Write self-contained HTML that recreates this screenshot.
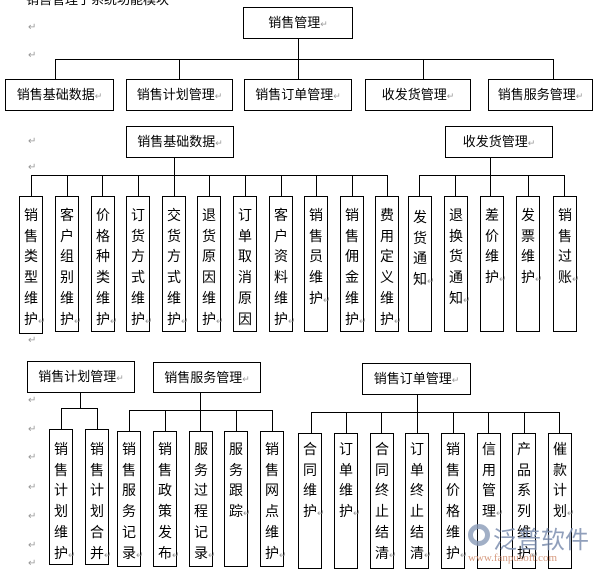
<!DOCTYPE html>
<html><head><meta charset="utf-8"><style>
body{margin:0;width:600px;height:571px;position:relative;overflow:hidden;background:#fff;font-family:"Liberation Sans","Noto Sans CJK SC","WenQuanYi Zen Hei",sans-serif;color:#000}
.b{position:absolute;border:1px solid #000;box-sizing:border-box;background:#fff;font-size:13px;text-align:center}
.h{line-height:29px}
.v{font-size:14px;line-height:20.7px;text-align:left;padding-left:4px;width:24px;word-break:break-all}
.l{position:absolute;background:#000}
.r{color:#999;font-size:9px}
.n{white-space:nowrap}
.m{position:absolute;color:#999;font-size:10px;left:28px}
</style></head><body>
<div style="position:absolute;left:26px;top:-11px;font-size:13px">销售管理子系统功能模块</div>
<div class="m" style="top:22px">↵</div><div class="m" style="top:50px">↵</div><div class="m" style="top:84px">↵</div><div class="m" style="top:136px">↵</div><div class="m" style="top:162px">↵</div><div class="m" style="top:335px">↵</div>
<div class="m" style="top:395px">↵</div><div class="m" style="top:424px">↵</div><div class="m" style="top:452px">↵</div><div class="m" style="top:482px">↵</div><div class="m" style="top:511px">↵</div><div class="m" style="top:540px">↵</div><div class="m" style="top:558px">↵</div>

<div class="b h" style="left:243px;top:7px;width:110px;height:32px">销售管理<span class="r">↵</span></div>
<div class="l" style="left:298px;top:38px;width:1px;height:21px"></div>
<div class="l" style="left:55px;top:59px;width:499px;height:1px"></div>
<div class="l" style="left:55px;top:59px;width:1px;height:20px"></div>
<div class="l" style="left:179px;top:59px;width:1px;height:20px"></div>
<div class="l" style="left:298px;top:59px;width:1px;height:20px"></div>
<div class="l" style="left:423px;top:59px;width:1px;height:20px"></div>
<div class="l" style="left:553px;top:59px;width:1px;height:20px"></div>
<div class="b h" style="left:5px;top:79px;width:109px;height:32px">销售基础数据<span class="r">↵</span></div>
<div class="b h" style="left:126px;top:79px;width:107px;height:32px">销售计划管理<span class="r">↵</span></div>
<div class="b h" style="left:244px;top:79px;width:108px;height:32px">销售订单管理<span class="r">↵</span></div>
<div class="b h" style="left:365px;top:79px;width:106px;height:32px">收发货管理<span class="r">↵</span></div>
<div class="b h" style="left:488px;top:79px;width:105px;height:32px">销售服务管理<span class="r">↵</span></div>

<div class="b h" style="left:126px;top:126px;width:108px;height:32px">销售基础数据<span class="r">↵</span></div>
<div class="b h" style="left:445px;top:126px;width:108px;height:32px">收发货管理<span class="r">↵</span></div>
<div class="l" style="left:174px;top:157px;width:1px;height:18px"></div>
<div class="l" style="left:31px;top:175px;width:357px;height:1px"></div>
<div class="l" style="left:31px;top:175px;width:1px;height:21px"></div>
<div class="l" style="left:67px;top:175px;width:1px;height:21px"></div>
<div class="l" style="left:102px;top:175px;width:1px;height:21px"></div>
<div class="l" style="left:138px;top:175px;width:1px;height:21px"></div>
<div class="l" style="left:174px;top:175px;width:1px;height:21px"></div>
<div class="l" style="left:209px;top:175px;width:1px;height:21px"></div>
<div class="l" style="left:245px;top:175px;width:1px;height:21px"></div>
<div class="l" style="left:281px;top:175px;width:1px;height:21px"></div>
<div class="l" style="left:316px;top:175px;width:1px;height:21px"></div>
<div class="l" style="left:352px;top:175px;width:1px;height:21px"></div>
<div class="l" style="left:387px;top:175px;width:1px;height:21px"></div>
<div class="l" style="left:490px;top:157px;width:1px;height:18px"></div>
<div class="l" style="left:419px;top:175px;width:146px;height:1px"></div>
<div class="l" style="left:419px;top:175px;width:1px;height:21px"></div>
<div class="l" style="left:455px;top:175px;width:1px;height:21px"></div>
<div class="l" style="left:490px;top:175px;width:1px;height:21px"></div>
<div class="l" style="left:528px;top:175px;width:1px;height:21px"></div>
<div class="l" style="left:564px;top:175px;width:1px;height:21px"></div>

<div class="b v" style="left:19px;top:196px;height:138px;padding-top:8px">销售类型维<span class="n">护<span class="r">↵</span></span></div>
<div class="b v" style="left:55px;top:196px;height:136px;padding-top:8px">客户组别维<span class="n">护<span class="r">↵</span></span></div>
<div class="b v" style="left:91px;top:196px;height:136px;padding-top:8px">价格种类维<span class="n">护<span class="r">↵</span></span></div>
<div class="b v" style="left:126px;top:196px;height:136px;padding-top:8px">订货方式维<span class="n">护<span class="r">↵</span></span></div>
<div class="b v" style="left:162px;top:196px;height:136px;padding-top:8px">交货方式维<span class="n">护<span class="r">↵</span></span></div>
<div class="b v" style="left:197px;top:196px;height:136px;padding-top:8px">退货原因维<span class="n">护<span class="r">↵</span></span></div>
<div class="b v" style="left:233px;top:196px;height:136px;padding-top:8px">订单取消原因</div>
<div class="b v" style="left:269px;top:196px;height:136px;padding-top:8px">客户资料维<span class="n">护<span class="r">↵</span></span></div>
<div class="b v" style="left:304px;top:196px;height:136px;padding-top:8px">销售员维<span class="n">护<span class="r">↵</span></span></div>
<div class="b v" style="left:340px;top:196px;height:136px;padding-top:8px">销售佣金维<span class="n">护<span class="r">↵</span></span></div>
<div class="b v" style="left:375px;top:196px;height:136px;padding-top:8px">费用定义维<span class="n">护<span class="r">↵</span></span></div>
<div class="b v" style="left:408px;top:196px;height:136px;padding-top:10px">发货通<span class="n">知<span class="r">↵</span></span></div>
<div class="b v" style="left:444px;top:196px;height:136px;padding-top:8px">退换货通<span class="n">知<span class="r">↵</span></span></div>
<div class="b v" style="left:480px;top:196px;height:136px;padding-top:8px">差价维<span class="n">护<span class="r">↵</span></span></div>
<div class="b v" style="left:516px;top:196px;height:136px;padding-top:8px">发票维<span class="n">护<span class="r">↵</span></span></div>
<div class="b v" style="left:553px;top:196px;height:136px;padding-top:8px">销售过<span class="n">账<span class="r">↵</span></span></div>

<div class="b h" style="left:27px;top:361px;width:108px;height:32px">销售计划管理<span class="r">↵</span></div>
<div class="l" style="left:80px;top:392px;width:1px;height:16px"></div>
<div class="l" style="left:61px;top:408px;width:37px;height:1px"></div>
<div class="l" style="left:61px;top:408px;width:1px;height:21px"></div>
<div class="l" style="left:97px;top:408px;width:1px;height:21px"></div>
<div class="b v" style="left:49px;top:429px;height:136px;padding-top:9px">销售计划维<span class="n">护<span class="r">↵</span></span></div>
<div class="b v" style="left:85px;top:429px;height:136px;padding-top:9px">销售计划合<span class="n">并<span class="r">↵</span></span></div>

<div class="b h" style="left:153px;top:362px;width:108px;height:31px">销售服务管理<span class="r">↵</span></div>
<div class="l" style="left:200px;top:392px;width:1px;height:18px"></div>
<div class="l" style="left:129px;top:410px;width:144px;height:1px"></div>
<div class="l" style="left:129px;top:410px;width:1px;height:21px"></div>
<div class="l" style="left:165px;top:410px;width:1px;height:21px"></div>
<div class="l" style="left:200px;top:410px;width:1px;height:21px"></div>
<div class="l" style="left:236px;top:410px;width:1px;height:21px"></div>
<div class="l" style="left:272px;top:410px;width:1px;height:21px"></div>
<div class="b v" style="left:117px;top:431px;height:136px;padding-top:7px">销售服务记<span class="n">录<span class="r">↵</span></span></div>
<div class="b v" style="left:153px;top:431px;height:136px;padding-top:7px">销售政策发<span class="n">布<span class="r">↵</span></span></div>
<div class="b v" style="left:189px;top:431px;height:136px;padding-top:7px">服务过程记<span class="n">录<span class="r">↵</span></span></div>
<div class="b v" style="left:224px;top:431px;height:136px;padding-top:7px">服务跟<span class="n">踪<span class="r">↵</span></span></div>
<div class="b v" style="left:260px;top:431px;height:136px;padding-top:7px">销售网点维<span class="n">护<span class="r">↵</span></span></div>

<div class="b h" style="left:362px;top:363px;width:109px;height:32px">销售订单管理<span class="r">↵</span></div>
<div class="l" style="left:417px;top:394px;width:1px;height:18px"></div>
<div class="l" style="left:311px;top:412px;width:249px;height:1px"></div>
<div class="l" style="left:311px;top:412px;width:1px;height:21px"></div>
<div class="l" style="left:346px;top:412px;width:1px;height:21px"></div>
<div class="l" style="left:381px;top:412px;width:1px;height:21px"></div>
<div class="l" style="left:417px;top:412px;width:1px;height:21px"></div>
<div class="l" style="left:453px;top:412px;width:1px;height:21px"></div>
<div class="l" style="left:488px;top:412px;width:1px;height:21px"></div>
<div class="l" style="left:524px;top:412px;width:1px;height:21px"></div>
<div class="l" style="left:559px;top:412px;width:1px;height:21px"></div>
<div class="b v" style="left:298px;top:433px;height:136px;padding-top:5px">合同维<span class="n">护<span class="r">↵</span></span></div>
<div class="b v" style="left:334px;top:433px;height:136px;padding-top:5px">订单维<span class="n">护<span class="r">↵</span></span></div>
<div class="b v" style="left:370px;top:433px;height:136px;padding-top:5px">合同终止结<span class="n">清<span class="r">↵</span></span></div>
<div class="b v" style="left:405px;top:433px;height:136px;padding-top:5px">订单终止结<span class="n">清<span class="r">↵</span></span></div>
<div class="b v" style="left:441px;top:433px;height:136px;padding-top:5px">销售价格维<span class="n">护<span class="r">↵</span></span></div>
<div class="b v" style="left:477px;top:433px;height:136px;padding-top:5px">信用管<span class="n">理<span class="r">↵</span></span></div>
<div class="b v" style="left:512px;top:433px;height:136px;padding-top:5px">产品系列维<span class="n">护<span class="r">↵</span></span></div>
<div class="b v" style="left:548px;top:433px;height:136px;padding-top:5px">催款计<span class="n">划<span class="r">↵</span></span></div>

<div style="position:absolute;left:468px;top:524px;width:22px;height:22px;border-radius:50%;border:5px solid #8a9bb8;box-sizing:border-box;opacity:.8"></div>
<div style="position:absolute;left:493px;top:520px;font-size:24px;color:#7d8fb0;opacity:.85">泛普软件</div>
<div style="position:absolute;left:468px;top:552px;font-size:11px;color:#d08a6a;font-family:'Liberation Serif',serif;opacity:.85">www.fanpusoft.com</div>
</body></html>
